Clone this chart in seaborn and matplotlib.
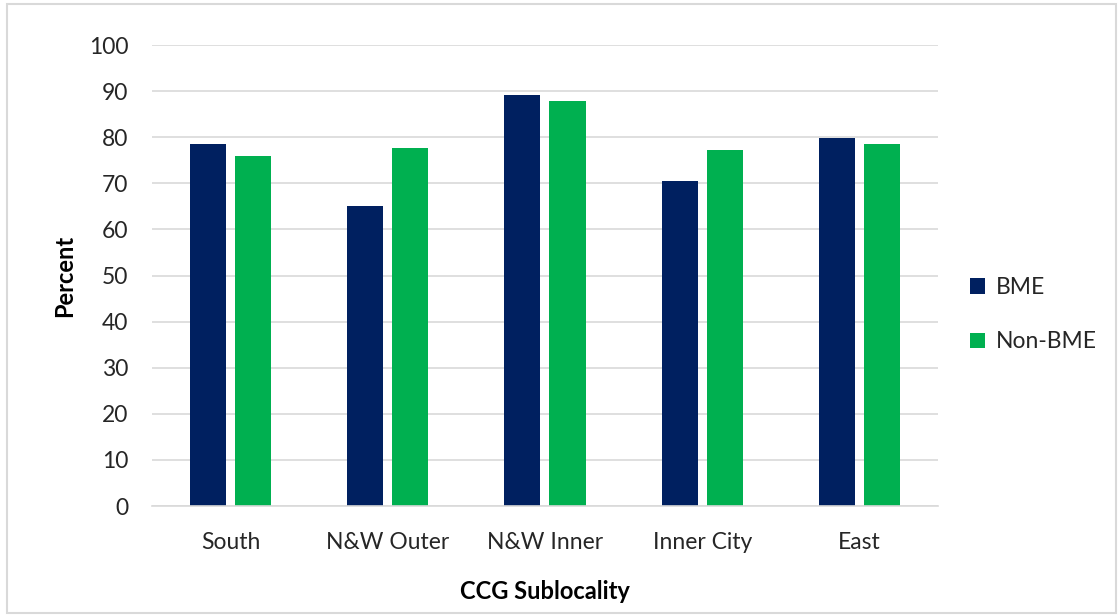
import matplotlib
matplotlib.use("Agg")
import matplotlib.pyplot as plt
from matplotlib.patches import Rectangle
from matplotlib.ticker import FixedLocator
import seaborn as sns
import pandas as pd

categories = ["South", "N&W Outer", "N&W Inner", "Inner City", "East"]
bme = [78.6, 65.0, 89.2, 70.4, 79.9]
non_bme = [76.0, 77.6, 87.9, 77.3, 78.6]
series_names = ["BME", "Non-BME"]
y_ticks = list(range(0, 101, 10))

df = pd.DataFrame({
    "Sublocality": categories * 2,
    "Group": [series_names[0]] * len(categories) + [series_names[1]] * len(categories),
    "Percent": bme + non_bme,
})

sns.set_theme(style="white")
plt.rcParams["font.family"] = ["Lato", "DejaVu Sans"]

fig = plt.figure(figsize=(11.2, 6.15), dpi=100)
ax = fig.add_axes([0.1357, 0.1772, 0.7018, 0.7496])

palette = {"BME": "#002060", "Non-BME": "#00B050"}
sns.barplot(data=df, x="Sublocality", y="Percent", hue="Group", order=categories,
            hue_order=series_names, palette=palette, width=0.573, gap=0.2,
            ax=ax, edgecolor="none", saturation=1)

ax.set_ylim(0, 100)
ax.set_xlim(-0.5, len(categories) - 0.5)
ax.set_yticks(y_ticks)
ax.yaxis.grid(True, color="#d9d9d9", linewidth=1.2)
ax.set_axisbelow(True)
for side in ["top", "right", "left"]:
    ax.spines[side].set_visible(False)
ax.spines["bottom"].set_color("#d9d9d9")
ax.spines["bottom"].set_linewidth(1.2)

ax.tick_params(axis="y", length=0, labelsize=16.5, labelcolor="#262626", pad=17)
ax.tick_params(axis="x", which="major", length=0, labelsize=16.5, labelcolor="#262626", pad=19)
ax.xaxis.set_minor_locator(FixedLocator([i - 0.5 for i in range(len(categories) + 1)]))
ax.tick_params(axis="x", which="minor", length=8, width=1.2, color="#d9d9d9", direction="out")

ax.set_xlabel("CCG Sublocality", fontsize=17, fontweight="bold", color="#000000", labelpad=19)
ax.set_ylabel("Percent", fontsize=17, fontweight="bold", color="#000000", labelpad=9)

handles, labels = ax.get_legend_handles_labels()
ax.legend(handles, labels, loc="center left", bbox_to_anchor=(1.015, 0.415),
          frameon=False, fontsize=16.5, handlelength=0.65, handleheight=0.65,
          handletextpad=0.45, labelspacing=1.45, labelcolor="#262626")

fig.patches.append(Rectangle((0.006, 0.004), 0.99, 0.99, transform=fig.transFigure,
                             fill=False, edgecolor="#d9d9d9", linewidth=1.5))

fig.savefig("out.png", dpi=100)
